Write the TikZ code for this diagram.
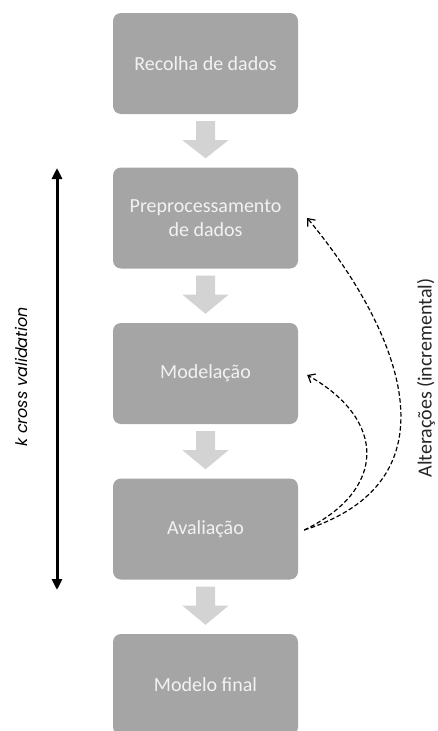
\documentclass[tikz,border=0pt]{standalone}
\usepackage{fontspec}
\setmainfont{Carlito}
\newfontfamily\gothic{Poppins}
\usetikzlibrary{arrows.meta,calc}

\definecolor{boxfill}{HTML}{A5A5A5}
\definecolor{boxtext}{HTML}{F2F2F2}
\definecolor{flowfill}{HTML}{D3D3D3}
\definecolor{labeltext}{HTML}{262626}

\tikzset{
  stage/.style={fill=boxfill, rounded corners=8pt, minimum width=185pt,
    minimum height=101pt, inner sep=0pt, text=boxtext, align=center,
    font=\fontsize{20}{24}\selectfont},
  feedback/.style={dash pattern=on 4.5pt off 2.5pt, line width=1.2pt,
    -{Straight Barb[length=6pt,width=10pt,line width=1.2pt]}},
  cvline/.style={line width=3pt,
    {Triangle[length=11pt,width=10pt]}-{Triangle[length=11pt,width=10pt]}},
  sidelabel/.style={rotate=90, inner sep=0pt}
}

% block arrow between two stacked stages
\newcommand\flowarrow[2]{%
  \fill[flowfill] ($(#1.south)+(-9.5,7)$) -- ($(#1.south)+(9.5,7)$)
    -- ($(#1.south)+(9.5,26)$) -- ($(#1.south)+(23,26)$)
    -- ($(#2.north)+(0,-9)$)
    -- ($(#1.south)+(-23,26)$) -- ($(#1.south)+(-9.5,26)$) -- cycle;}

\begin{document}
\begin{tikzpicture}[x=1pt,y=-1pt]
\clip (0,0) rectangle (437,731);
\useasboundingbox (0,0) rectangle (437,731);

\node[stage] (b1) at (205.5,63.5) {Recolha de dados};
\node[stage] (b2) at (205.5,218) {Preprocessamento\\de dados};
\node[stage] (b3) at (205.5,373.5) {Modelação};
\node[stage] (b4) at (205.5,529) {Avaliação};
\node[stage] (b5) at (205.5,684.5) {Modelo final};

\flowarrow{b1}{b2}
\flowarrow{b2}{b3}
\flowarrow{b3}{b4}
\flowarrow{b4}{b5}

% cross-validation span
\coordinate (kt) at (57,168);
\coordinate (kb) at (57,590);
\draw[cvline] (kt) -- (kb);
\node[sidelabel, font=\gothic\itshape\fontsize{16}{18}\selectfont] (kcv) at (21,377) {k cross validation};

% feedback loops from evaluation
\coordinate (fb) at ($(b4.east)+(6,1)$);
\coordinate (f2) at ($(b2.east)+(9,0)$);
\coordinate (f3) at ($(b3.east)+(9,1.5)$);
\draw[feedback] (fb) .. controls (468,478) and (392,320) .. (f2);
\draw[feedback] (fb) .. controls (387,490) and (387,420) .. (f3);
\node[sidelabel, text=labeltext, font=\fontsize{20}{24}\selectfont] (alt) at (426,378) {Alterações (incremental)};
\end{tikzpicture}
\end{document}
